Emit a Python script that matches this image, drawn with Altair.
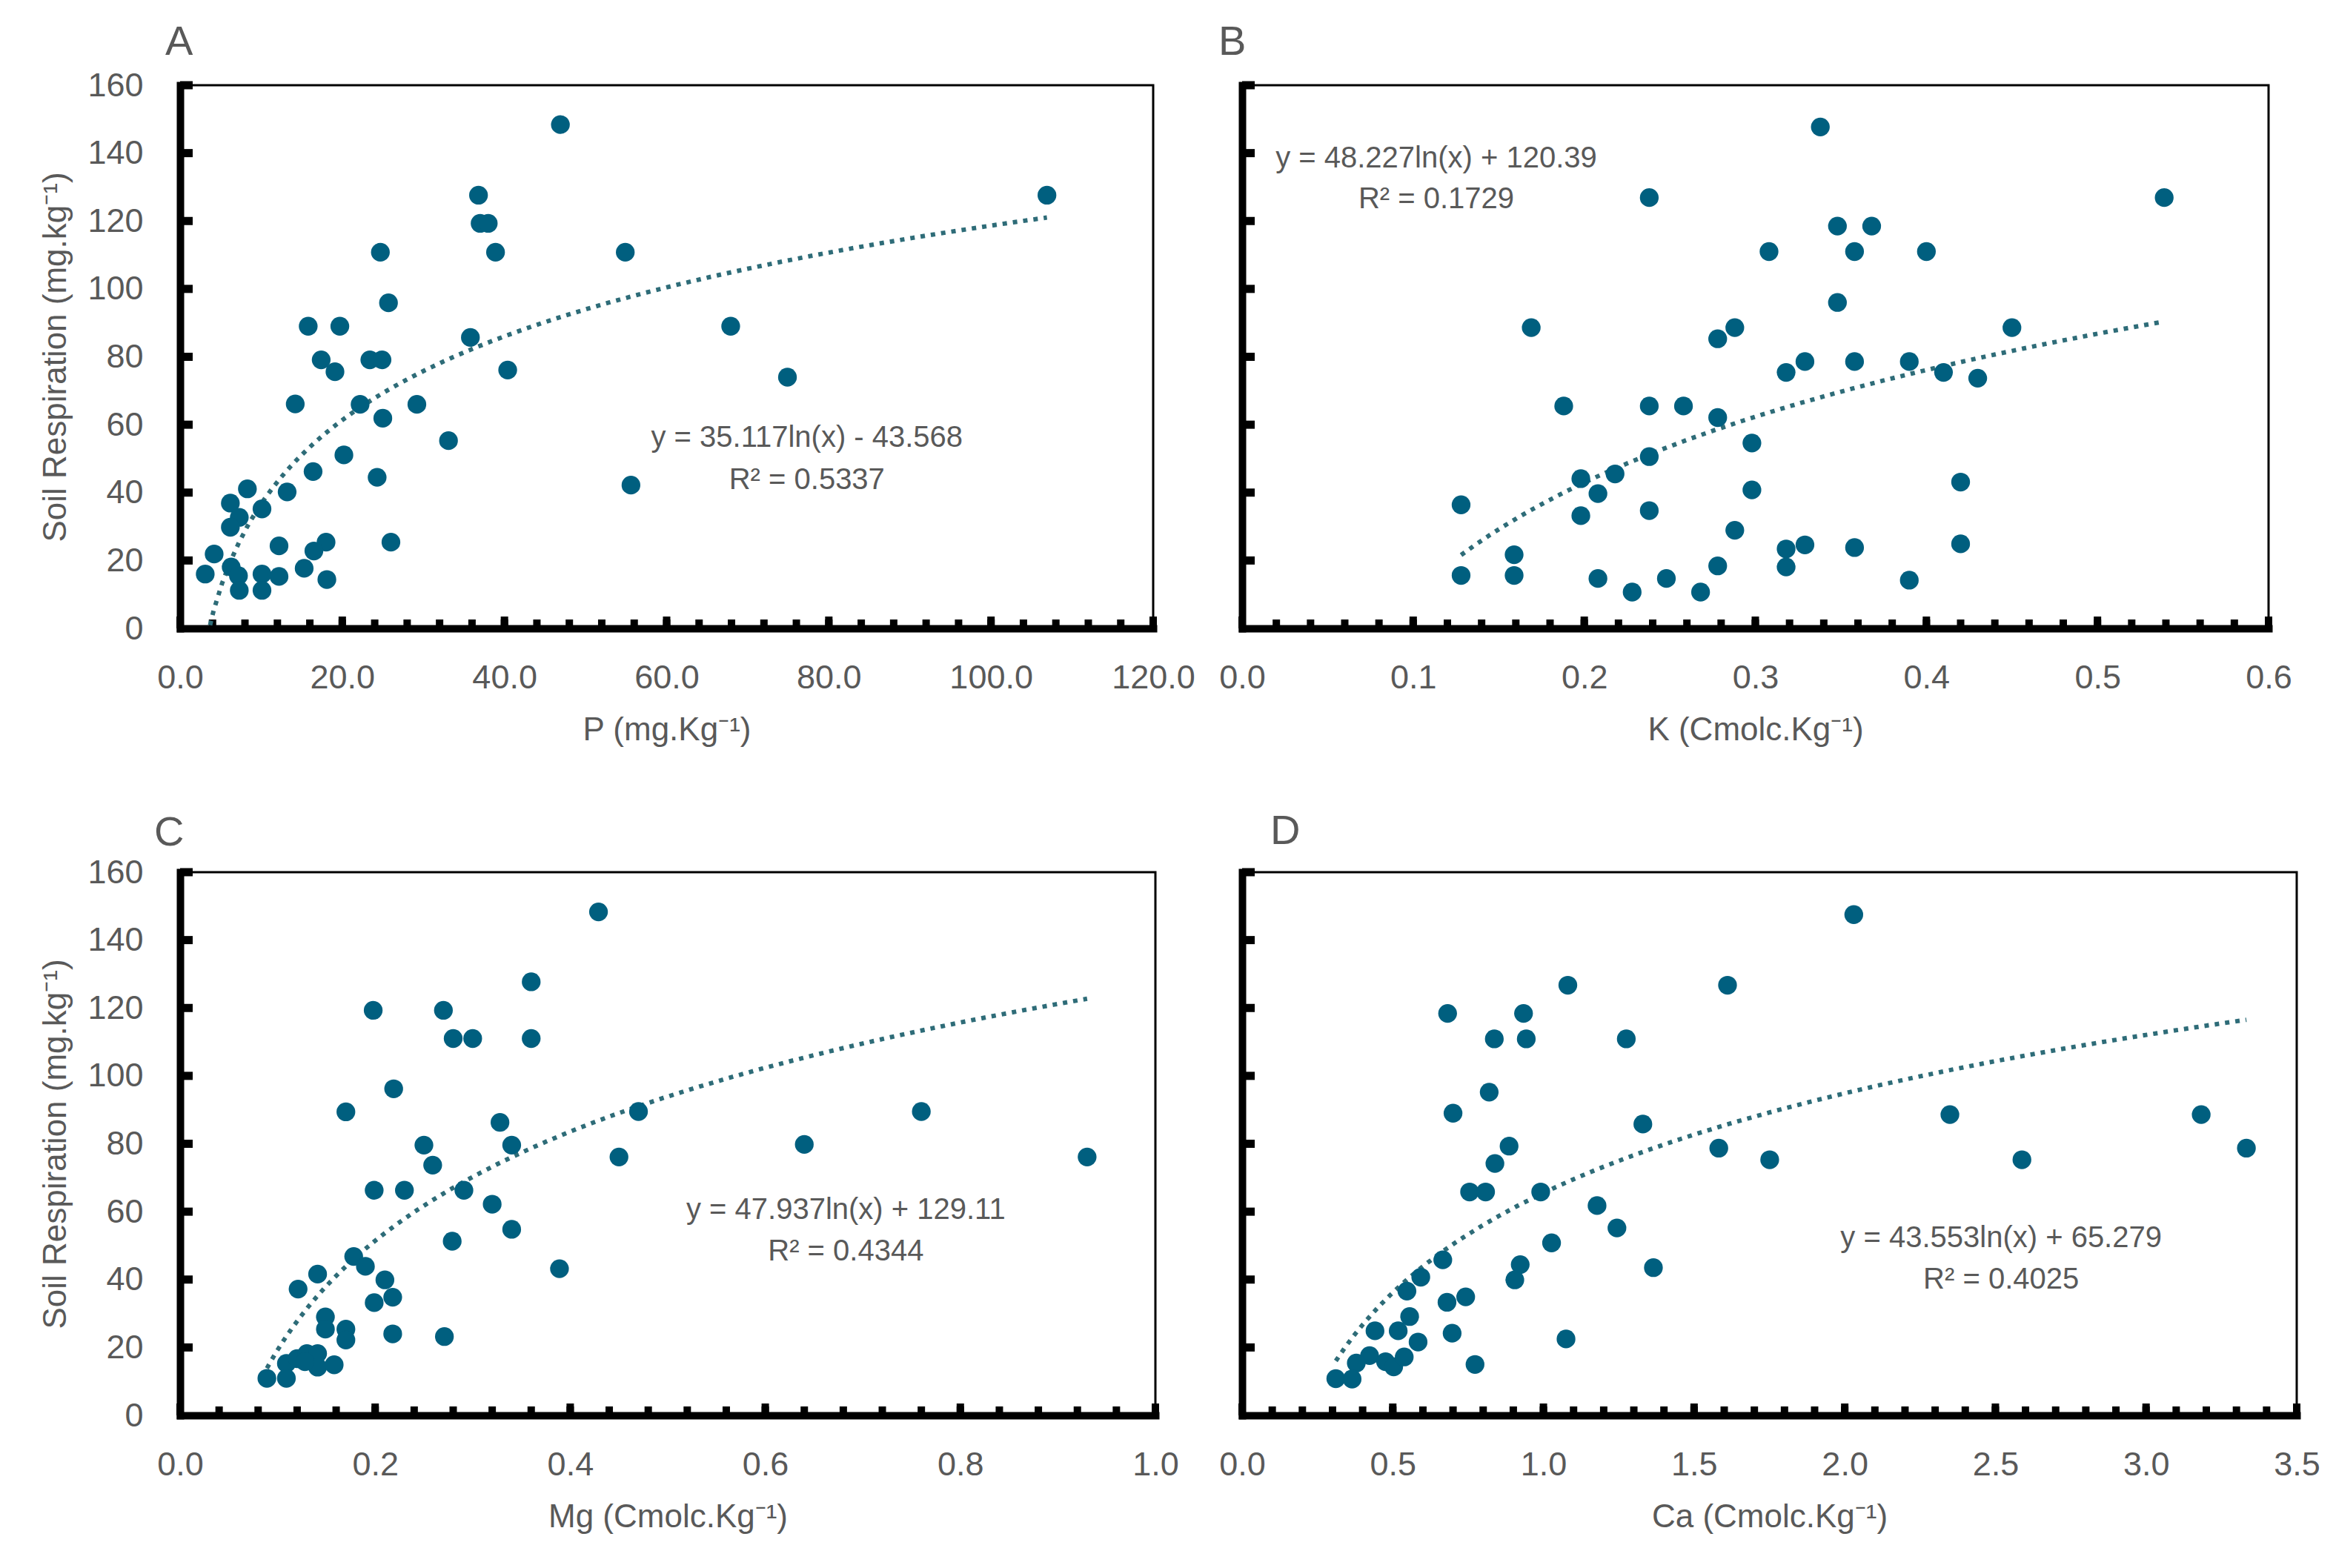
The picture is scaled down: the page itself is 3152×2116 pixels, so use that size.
import altair as alt
import pandas as pd

# ---------------- data ----------------
P_X = [46.9, 36.8, 106.9, 37.0, 38.0, 24.7, 38.9, 54.9, 25.7, 15.8, 19.7, 67.9, 35.8, 17.4, 23.4,
       24.9, 19.1, 40.4, 74.9, 14.2, 22.2, 29.2, 25.0, 33.1, 20.2, 16.4, 24.3, 55.6, 8.3, 13.2,
       6.2, 10.1, 7.3, 6.2, 26.0, 18.0, 16.5, 12.2, 4.2, 15.3, 6.3, 3.1, 7.2, 10.1, 12.2, 18.1, 7.3, 10.1]
P_Y = [148.4, 127.6, 127.6, 119.3, 119.3, 110.8, 110.8, 110.8, 95.9, 89.0, 89.0, 89.0, 85.7, 79.1, 79.1,
       79.1, 75.6, 76.1, 74.0, 66.1, 66.0, 66.0, 61.9, 55.3, 51.1, 46.2, 44.5, 42.2, 41.1, 40.2,
       36.9, 35.2, 32.7, 29.8, 25.4, 25.4, 22.8, 24.3, 21.9, 17.7, 18.1, 16.0, 15.5, 16.0, 15.3, 14.4, 11.2, 11.2]

K_X = [0.338, 0.238, 0.539, 0.348, 0.368, 0.308, 0.358, 0.400, 0.348, 0.169, 0.288, 0.450, 0.278, 0.329, 0.358,
       0.390, 0.318, 0.410, 0.430, 0.188, 0.238, 0.258, 0.278, 0.298, 0.238, 0.218, 0.198, 0.420, 0.208, 0.298,
       0.128, 0.238, 0.198, 0.288, 0.318, 0.329, 0.358, 0.420, 0.159, 0.278, 0.318, 0.128, 0.159, 0.208, 0.248,
       0.390, 0.228, 0.268]
K_Y = [147.7, 126.9, 126.9, 118.5, 118.5, 111.0, 111.0, 111.0, 96.0, 88.6, 88.6, 88.6, 85.3, 78.6, 78.6,
       78.6, 75.4, 75.4, 73.7, 65.5, 65.5, 65.5, 62.1, 54.6, 50.6, 45.5, 44.1, 43.1, 39.7, 40.8,
       36.4, 34.7, 33.2, 28.9, 23.4, 24.6, 23.8, 24.9, 21.7, 18.4, 18.1, 15.6, 15.6, 14.7, 14.7,
       14.2, 10.7, 10.7]

MG_X = [0.429, 0.360, 0.198, 0.270, 0.280, 0.300, 0.360, 0.219, 0.170, 0.470, 0.760, 0.328, 0.250, 0.340, 0.640,
        0.450, 0.930, 0.259, 0.199, 0.230, 0.291, 0.320, 0.340, 0.279, 0.178, 0.190, 0.389, 0.141, 0.210, 0.121,
        0.218, 0.199, 0.149, 0.149, 0.170, 0.170, 0.218, 0.271, 0.109, 0.120, 0.130, 0.141, 0.141, 0.158, 0.089,
        0.109, 0.128]
MG_Y = [148.3, 127.7, 119.3, 119.3, 111.0, 111.0, 111.0, 96.2, 89.4, 89.5, 89.5, 86.3, 79.6, 79.6, 79.8,
        76.1, 76.1, 73.7, 66.3, 66.3, 66.3, 62.2, 54.8, 51.3, 46.8, 43.9, 43.2, 41.6, 39.9, 37.2,
        34.8, 33.2, 29.0, 25.4, 25.4, 22.2, 24.0, 23.2, 15.3, 16.7, 18.2, 18.2, 14.2, 14.9, 10.9,
        10.9, 15.8]

CA_X = [2.03, 1.081, 1.611, 0.682, 0.934, 0.837, 0.943, 1.275, 0.82, 0.70, 2.349, 3.183, 1.33, 0.886, 1.582,
        3.333, 0.839, 1.751, 2.588, 0.755, 0.808, 0.991, 1.178, 1.244, 1.027, 0.666, 0.923, 0.905, 1.365, 0.593,
        0.547, 0.742, 0.680, 0.556, 0.441, 0.518, 0.697, 0.584, 1.075, 0.773, 0.423, 0.379, 0.476, 0.503, 0.538,
        0.311, 0.365]
CA_Y = [147.5, 126.7, 126.7, 118.4, 118.4, 110.9, 110.9, 110.9, 95.2, 89.0, 88.6, 88.6, 85.8, 79.3, 78.7,
        78.7, 74.2, 75.3, 75.3, 65.8, 65.8, 65.8, 61.8, 55.2, 50.8, 45.8, 44.4, 39.9, 43.5, 40.7,
        36.6, 34.9, 33.3, 29.1, 24.9, 24.9, 24.2, 21.6, 22.5, 15.0, 17.6, 15.4, 15.8, 14.3, 17.2,
        10.8, 10.7]

Y_TICKS = [0, 20, 40, 60, 80, 100, 120, 140, 160]

# ---------------- style ----------------
FONT = "Liberation Sans, Arial, Helvetica, sans-serif"
GRAY = "#595959"
POINT = "#005f7f"
TREND = "#2e6c78"
H = 733


def panel(xs, ys, xmax, major_step, n_sub, width, xtitle, letter, ldx, ldy,
          eq, r2, eqx, eqy, r2y, show_y):
    df = pd.DataFrame({"x": xs, "y": ys})
    n_major = int(round(xmax / major_step))
    majors = [round(i * major_step, 4) for i in range(n_major + 1)]
    minor_step = major_step / n_sub
    minors = [round(i * minor_step, 4) for i in range(n_major * n_sub + 1)]

    xscale = alt.Scale(domain=[0, xmax], nice=False, zero=True)
    yscale = alt.Scale(domain=[0, 160], nice=False)

    xaxis = alt.Axis(values=majors, format=".1f", title=xtitle, ticks=False, grid=False,
                     domainColor="black", domainWidth=10, domainCap="square",
                     labelFont=FONT, labelFontSize=45, labelColor=GRAY, labelPadding=44,
                     labelFlush=False, titleFont=FONT, titleFontSize=44, titleColor=GRAY,
                     titleFontWeight="normal", titlePadding=26)
    ykw = dict(values=Y_TICKS, ticks=False, grid=False, domainColor="black",
               domainWidth=10, domainCap="square")
    if show_y:
        ykw.update(title="Soil Respiration (mg.kg⁻¹)", format="d", labelFont=FONT,
                   labelFontSize=45, labelColor=GRAY, labelPadding=50,
                   titleFont=FONT, titleFontSize=44, titleColor=GRAY,
                   titleFontWeight="normal", titlePadding=20)
    else:
        ykw.update(title="", labels=False)
    yaxis = alt.Axis(**ykw)

    points = alt.Chart(df).mark_circle(size=640, opacity=1, color=POINT).encode(
        x=alt.X("x:Q", scale=xscale, axis=xaxis),
        y=alt.Y("y:Q", scale=yscale, axis=yaxis),
    )
    trend = alt.Chart(df).transform_regression("x", "y", method="log").mark_line(
        color=TREND, strokeWidth=6, strokeDash=[6, 8], clip=True
    ).encode(x=alt.X("x:Q", scale=xscale), y=alt.Y("y:Q", scale=yscale))

    xt_minor = alt.Chart(pd.DataFrame({"x": minors})).mark_rule(color="black", strokeWidth=10).encode(
        x=alt.X("x:Q", scale=xscale), y=alt.value(H), y2=alt.value(H - 12))
    xt_major = alt.Chart(pd.DataFrame({"x": majors})).mark_rule(color="black", strokeWidth=10).encode(
        x=alt.X("x:Q", scale=xscale), y=alt.value(H), y2=alt.value(H - 16))
    yt = alt.Chart(pd.DataFrame({"y": Y_TICKS[1:]})).mark_rule(color="black", strokeWidth=11).encode(
        y=alt.Y("y:Q", scale=yscale), x=alt.value(0), x2=alt.value(17))

    eq_t = alt.Chart(pd.DataFrame({"x": [eqx], "y": [eqy]})).mark_text(
        text=eq, font=FONT, fontSize=40, color=GRAY, align="center", baseline="middle"
    ).encode(x=alt.X("x:Q", scale=xscale), y=alt.Y("y:Q", scale=yscale))
    r2_t = alt.Chart(pd.DataFrame({"x": [eqx], "y": [r2y]})).mark_text(
        text=r2, font=FONT, fontSize=40, color=GRAY, align="center", baseline="middle"
    ).encode(x=alt.X("x:Q", scale=xscale), y=alt.Y("y:Q", scale=yscale))

    let = alt.Chart(pd.DataFrame({"k": [letter]})).mark_text(
        font=FONT, fontSize=56, color=GRAY, align="left", baseline="middle"
    ).encode(x=alt.value(ldx), y=alt.value(ldy), text="k:N")

    return alt.layer(xt_minor, xt_major, yt, trend, points, eq_t, r2_t, let).properties(
        width=width, height=H)


A = panel(P_X, P_Y, 120, 20, 5, 1313, "P (mg.Kg⁻¹)", "A", -20, -58,
          "y = 35.117ln(x) - 43.568", "R² = 0.5337", 77.3, 56.0, 43.6, True)
B = panel(K_X, K_Y, 0.6, 0.1, 5, 1385, "K (Cmolc.Kg⁻¹)", "B", -32, -58,
          "y = 48.227ln(x) + 120.39", "R² = 0.1729", 0.1135, 138.3, 126.4, False)
C = panel(MG_X, MG_Y, 1.0, 0.2, 5, 1316, "Mg (Cmolc.Kg⁻¹)", "C", -35, -53,
          "y = 47.937ln(x) + 129.11", "R² = 0.4344", 0.6826, 60.4, 48.3, True)
D = panel(CA_X, CA_Y, 3.5, 0.5, 5, 1423, "Ca (Cmolc.Kg⁻¹)", "D", 38, -55,
          "y = 43.553ln(x) + 65.279", "R² = 0.4025", 2.519, 52.2, 40.0, False)

chart = alt.concat(A, B, C, D, columns=2, spacing={"row": 329, "column": 117},
                   bounds="flush", align="each").properties(
    padding={"left": 44, "top": 19, "right": 5, "bottom": 5},
    background="white",
).configure_view(stroke="black", strokeWidth=3)

chart.save("out.html", embed_options={"renderer": "svg", "actions": False})
